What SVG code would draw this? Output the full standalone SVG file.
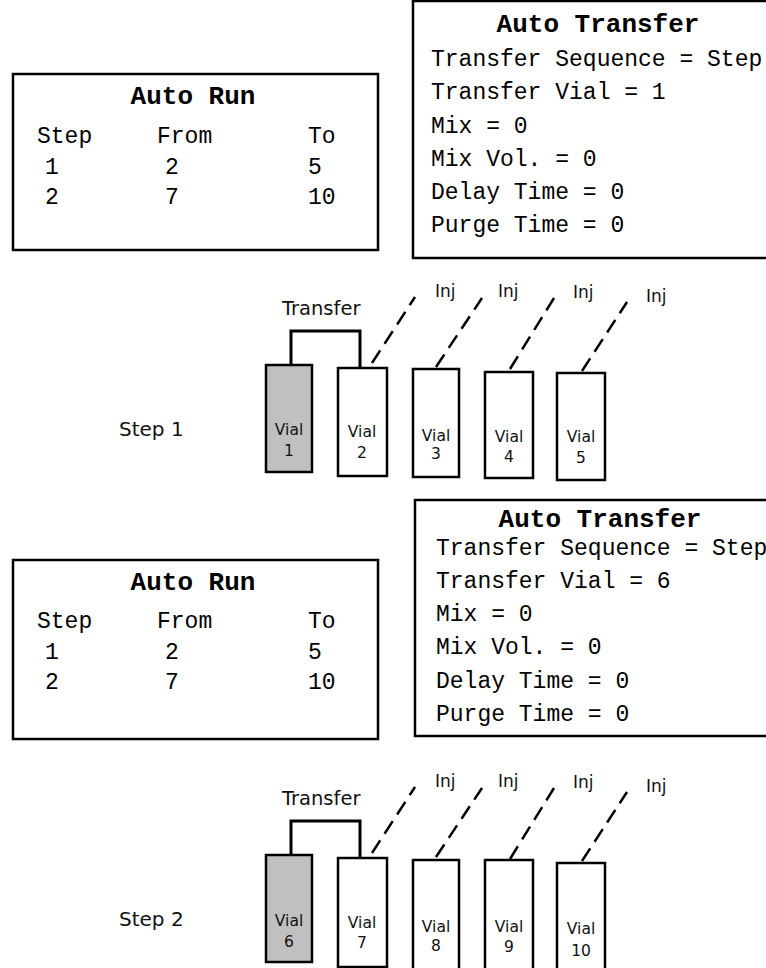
<svg xmlns="http://www.w3.org/2000/svg" width="766" height="968" viewBox="0 0 766 968">
<style>
.box{fill:#fff;stroke:#000;stroke-width:2.5}
.mono{font-family:"Liberation Mono","Courier New",monospace;font-size:23px;fill:#000}
.title{font-family:"Liberation Mono","Courier New",monospace;font-size:26px;font-weight:bold;fill:#000;text-anchor:middle}
.vial{fill:#fff;stroke:#000;stroke-width:2.5}
.vial.src{fill:#c0c0c0}
.vl{font-family:"DejaVu Sans","Liberation Sans",sans-serif;font-size:15.5px;fill:#111;text-anchor:middle}
.lbl{font-family:"DejaVu Sans","Liberation Sans",sans-serif;fill:#111}
.inj{fill:none;stroke:#000;stroke-width:2.5;stroke-dasharray:15 8}
.xfer{fill:none;stroke:#000;stroke-width:3}
</style>

<!-- Step 1 tables -->
<g id="autorun1">
<rect class="box" x="13" y="74" width="365" height="176"/>
<text class="title" x="193" y="104">Auto Run</text>
<text class="mono" x="37" y="143">Step</text>
<text class="mono" x="157" y="143">From</text>
<text class="mono" x="308" y="143">To</text>
<text class="mono" x="45" y="174">1</text>
<text class="mono" x="165" y="174">2</text>
<text class="mono" x="308" y="174">5</text>
<text class="mono" x="45" y="204">2</text>
<text class="mono" x="165" y="204">7</text>
<text class="mono" x="308" y="204">10</text>
</g>

<g id="autotransfer1">
<rect class="box" x="413" y="1" width="370" height="257"/>
<text class="title" x="598" y="32">Auto Transfer</text>
<text class="mono" x="431" y="66">Transfer Sequence = Step</text>
<text class="mono" x="431" y="99">Transfer Vial = 1</text>
<text class="mono" x="431" y="133">Mix = 0</text>
<text class="mono" x="431" y="166">Mix Vol. = 0</text>
<text class="mono" x="431" y="199">Delay Time = 0</text>
<text class="mono" x="431" y="232">Purge Time = 0</text>
</g>

<!-- Step 1 vials -->
<text id="step1" class="lbl" x="119" y="436" font-size="20">Step 1</text>
<g id="vial1"><rect class="vial src" x="266" y="365" width="46" height="107"/><text class="vl" x="289" y="435">Vial</text><text class="vl" x="289" y="456">1</text></g>
<g id="vial2"><rect class="vial" x="338" y="368" width="49" height="108"/><text class="vl" x="362" y="437">Vial</text><text class="vl" x="362" y="458">2</text></g>
<g id="vial3"><rect class="vial" x="413" y="369" width="46" height="108"/><text class="vl" x="436" y="441">Vial</text><text class="vl" x="436" y="459">3</text></g>
<g id="vial4"><rect class="vial" x="485" y="372" width="48" height="106"/><text class="vl" x="509" y="442">Vial</text><text class="vl" x="509" y="462">4</text></g>
<g id="vial5"><rect class="vial" x="557" y="373" width="48" height="107"/><text class="vl" x="581" y="442">Vial</text><text class="vl" x="581" y="463">5</text></g>

<text class="lbl" x="282" y="315" font-size="19.5">Transfer</text>
<text class="lbl" x="435" y="297" font-size="17">Inj</text>
<text class="lbl" x="498" y="297" font-size="17">Inj</text>
<text class="lbl" x="573" y="298" font-size="17">Inj</text>
<text class="lbl" x="646" y="302" font-size="17">Inj</text>

<!-- Step 2 tables -->
<g id="autorun2">
<rect class="box" x="13" y="560" width="365" height="179"/>
<text class="title" x="193" y="590">Auto Run</text>
<text class="mono" x="37" y="628">Step</text>
<text class="mono" x="157" y="628">From</text>
<text class="mono" x="308" y="628">To</text>
<text class="mono" x="45" y="659">1</text>
<text class="mono" x="165" y="659">2</text>
<text class="mono" x="308" y="659">5</text>
<text class="mono" x="45" y="689">2</text>
<text class="mono" x="165" y="689">7</text>
<text class="mono" x="308" y="689">10</text>
</g>

<g id="autotransfer2">
<rect class="box" x="415" y="500" width="370" height="236"/>
<text class="title" x="600" y="527">Auto Transfer</text>
<text class="mono" x="436" y="555">Transfer Sequence = Step</text>
<text class="mono" x="436" y="588">Transfer Vial = 6</text>
<text class="mono" x="436" y="621">Mix = 0</text>
<text class="mono" x="436" y="654">Mix Vol. = 0</text>
<text class="mono" x="436" y="688">Delay Time = 0</text>
<text class="mono" x="436" y="721">Purge Time = 0</text>
</g>

<!-- Step 2 vials -->
<text id="step2" class="lbl" x="119" y="926" font-size="20">Step 2</text>
<g id="vial6"><rect class="vial src" x="266" y="855" width="46" height="107"/><text class="vl" x="289" y="926">Vial</text><text class="vl" x="289" y="947">6</text></g>
<g id="vial7"><rect class="vial" x="338" y="858" width="49" height="109"/><text class="vl" x="362" y="928">Vial</text><text class="vl" x="362" y="948">7</text></g>
<g id="vial8"><rect class="vial" x="413" y="860" width="46" height="115"/><text class="vl" x="436" y="932">Vial</text><text class="vl" x="436" y="951">8</text></g>
<g id="vial9"><rect class="vial" x="485" y="860" width="48" height="115"/><text class="vl" x="509" y="932">Vial</text><text class="vl" x="509" y="952">9</text></g>
<g id="vial10"><rect class="vial" x="557" y="863" width="48" height="112"/><text class="vl" x="581" y="934">Vial</text><text class="vl" x="581" y="956">10</text></g>

<text class="lbl" x="282" y="805" font-size="19.5">Transfer</text>
<text class="lbl" x="435" y="787" font-size="17">Inj</text>
<text class="lbl" x="498" y="787" font-size="17">Inj</text>
<text class="lbl" x="573" y="788" font-size="17">Inj</text>
<text class="lbl" x="646" y="792" font-size="17">Inj</text>

<g id="connectors">
<polyline class="xfer" points="291,365 291,331 360,331 360,368"/>
<line class="inj" x1="372" y1="363" x2="415" y2="297"/>
<line class="inj" x1="436" y1="367" x2="482" y2="298"/>
<line class="inj" x1="510" y1="369" x2="554" y2="298"/>
<line class="inj" x1="582" y1="371" x2="627" y2="302"/>
<polyline class="xfer" points="291,855 291,821 360,821 360,858"/>
<line class="inj" x1="372" y1="853" x2="415" y2="787"/>
<line class="inj" x1="436" y1="857" x2="482" y2="788"/>
<line class="inj" x1="510" y1="859" x2="554" y2="788"/>
<line class="inj" x1="582" y1="861" x2="627" y2="792"/>
</g>
</svg>
